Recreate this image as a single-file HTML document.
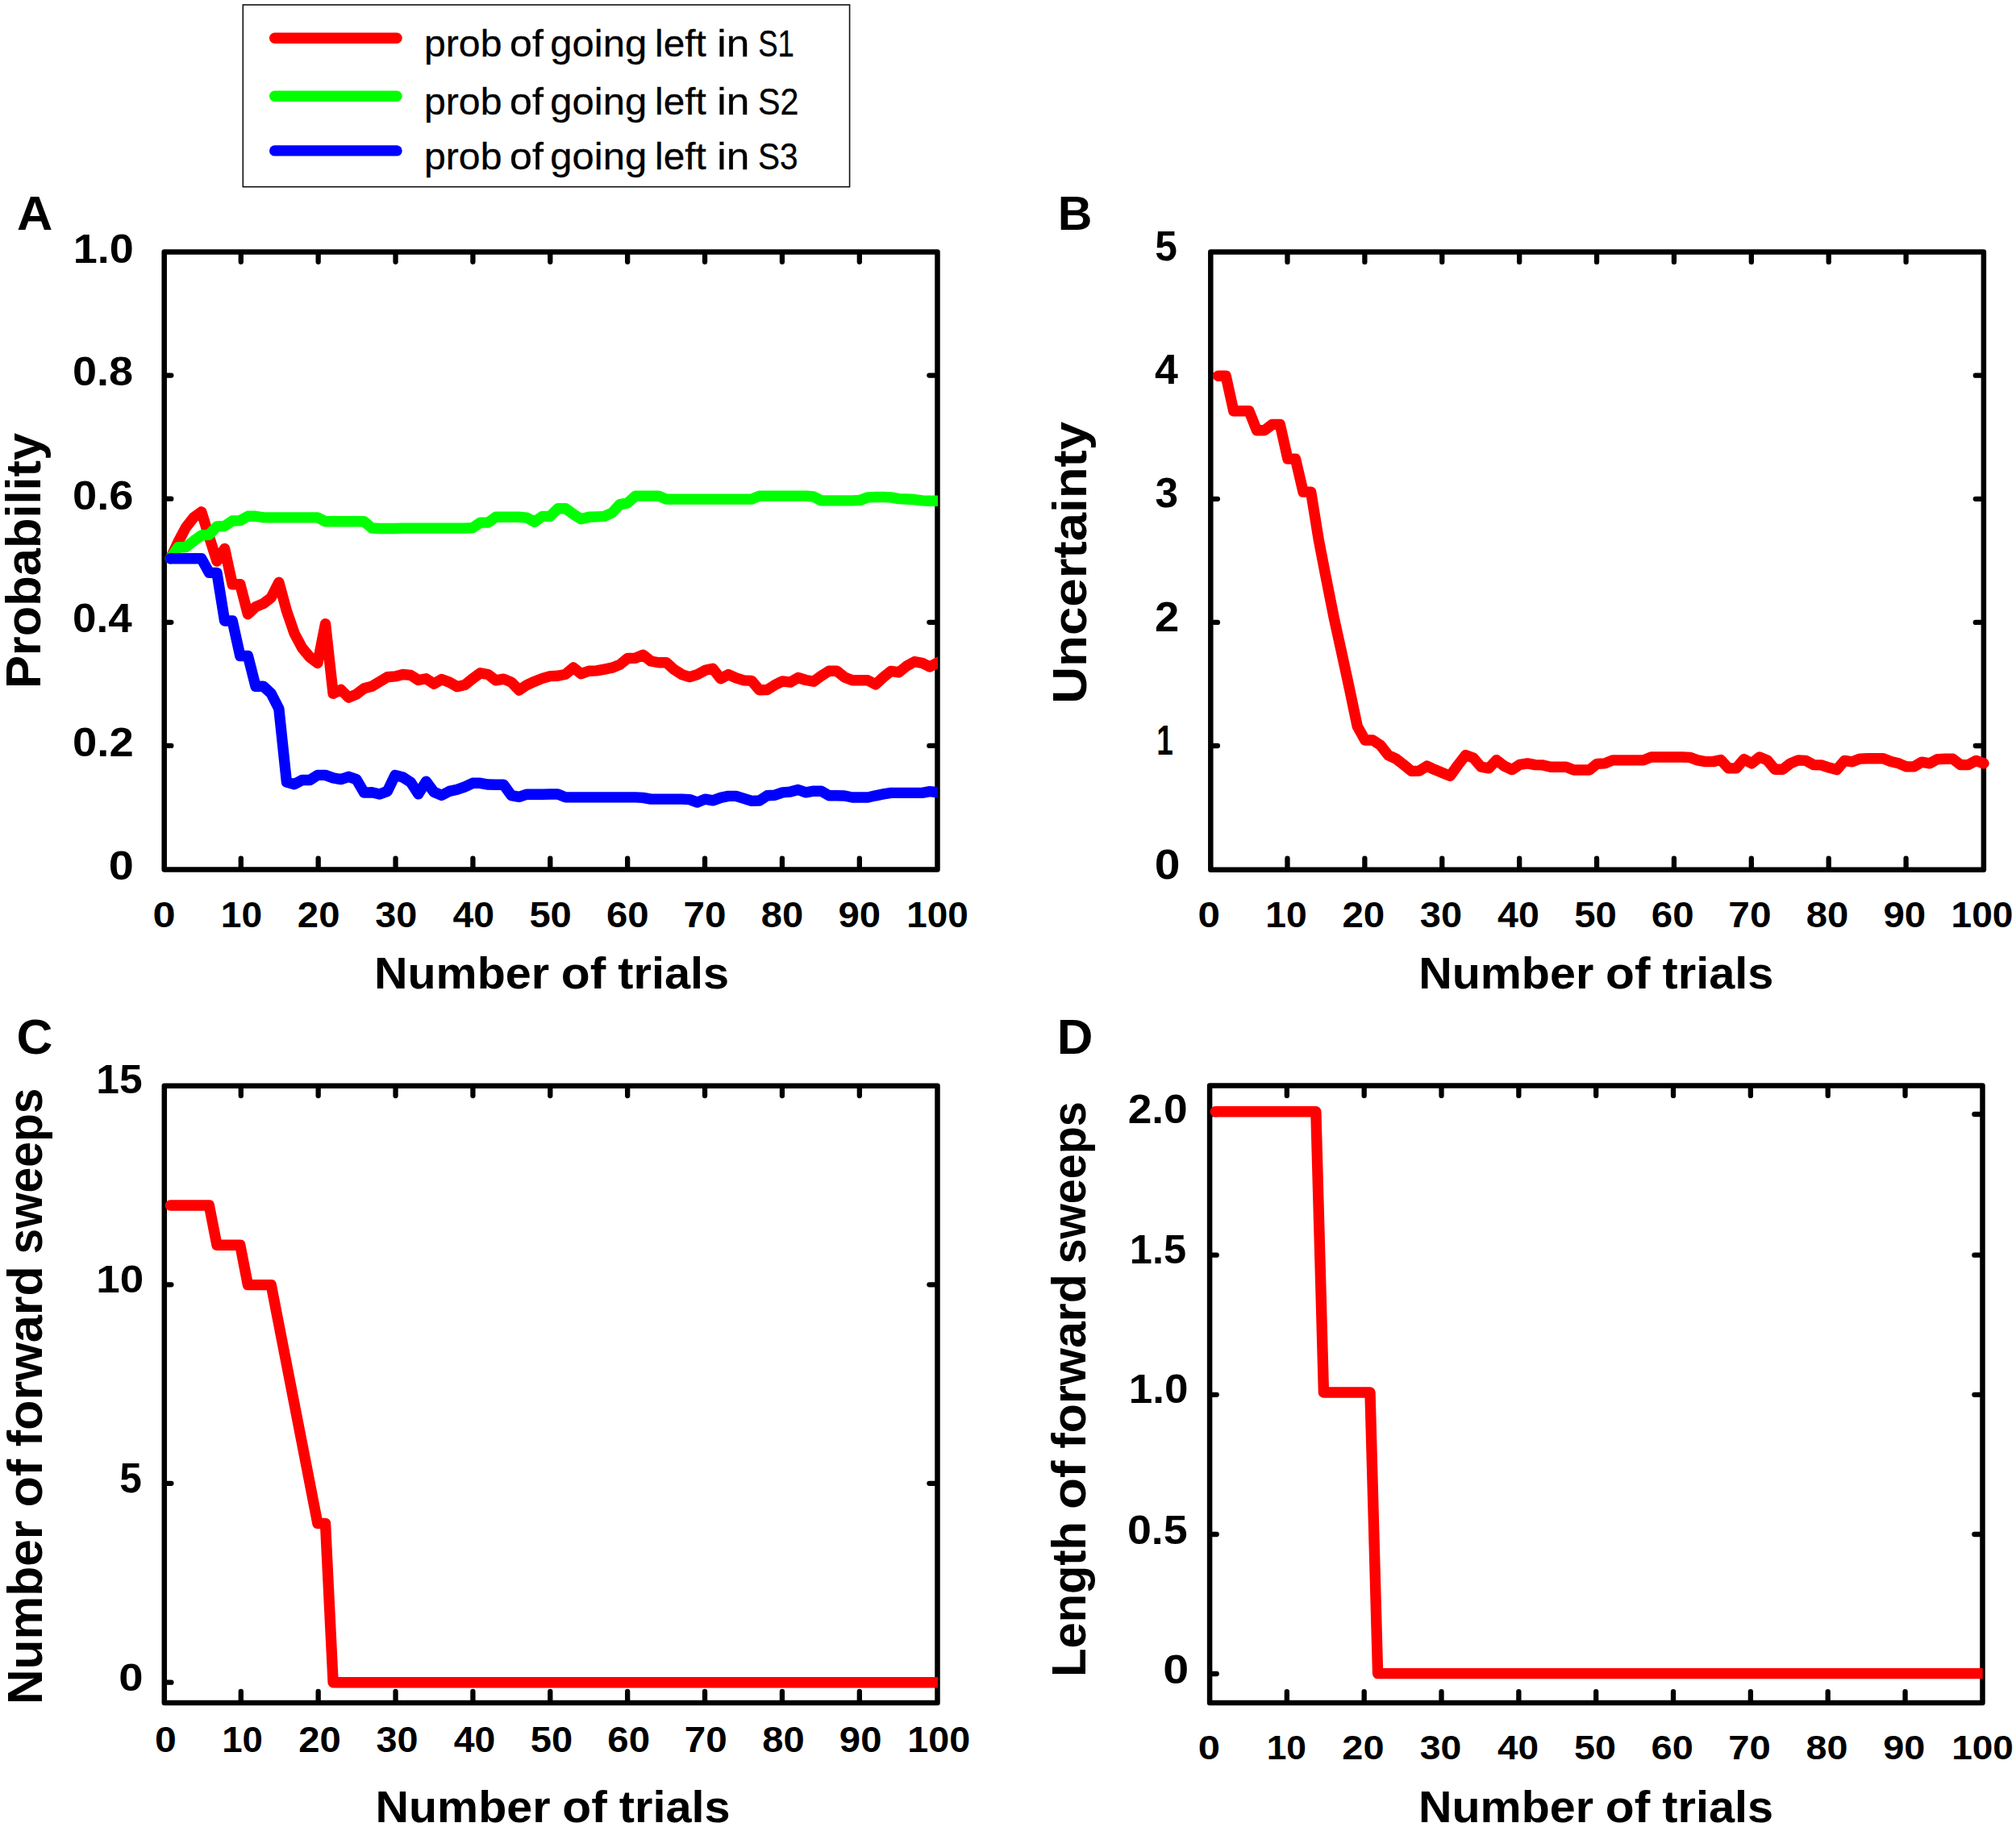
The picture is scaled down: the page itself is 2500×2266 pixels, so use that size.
<!DOCTYPE html>
<html lang="en">
<head>
<meta charset="utf-8">
<title>Figure: learning over trials</title>
<style>
html,body{margin:0;padding:0;background:#fff}
svg{display:block;font-family:"Liberation Sans",Arial,Helvetica,sans-serif}
.fr{fill:none;stroke:#000;stroke-width:6.5;stroke-linejoin:round}
.tk{fill:none;stroke:#000;stroke-width:6.3;stroke-linecap:round}
.cv{fill:none;stroke-width:13.4;stroke-linecap:round;stroke-linejoin:round}
.r{stroke:#ff0000}.g{stroke:#00ff00}.b{stroke:#0000ff}
text{fill:#000}
.bd{font-weight:bold}
</style>
</head>
<body>
<svg width="2500" height="2266" viewBox="0 0 2500 2266">
<rect width="2500" height="2266" fill="#fff"/>
<defs>
<clipPath id="ca"><rect x="0" y="0" width="1162.9" height="2266"/></clipPath>
<clipPath id="cd"><rect x="0" y="0" width="2458.7" height="2266"/></clipPath>
</defs>
<g id="legend">
<rect x="301.3" y="6" width="752.3" height="225.7" fill="#fff" stroke="#111" stroke-width="1.6"/>
<path class="cv r" d="M340.7 47.2H492"/>
<path class="cv g" d="M340.7 119.2H492"/>
<path class="cv b" d="M340.7 186.9H492"/>
</g>
<g id="axesA">
<rect class="fr" x="203.7" y="312.55" width="958.8" height="766"/>
<path class="tk" d="M298.78 1077.05v-12.5M298.78 314.05v10.8M394.66 1077.05v-12.5M394.66 314.05v10.8M490.54 1077.05v-12.5M490.54 314.05v10.8M586.42 1077.05v-12.5M586.42 314.05v10.8M682.3 1077.05v-12.5M682.3 314.05v10.8M778.18 1077.05v-12.5M778.18 314.05v10.8M874.06 1077.05v-12.5M874.06 314.05v10.8M969.94 1077.05v-12.5M969.94 314.05v10.8M1065.82 1077.05v-12.5M1065.82 314.05v10.8M205.2 465.6h7.1M1161 465.6h-8.6M205.2 618.7h7.1M1161 618.7h-8.6M205.2 771.8h7.1M1161 771.8h-8.6M205.2 924.9h7.1M1161 924.9h-8.6"/>
</g>
<g id="axesB">
<rect class="fr" x="1501.3" y="312.6" width="958.6" height="766.05"/>
<path class="tk" d="M1596.49 1077.15v-12.5M1596.49 314.1v10.8M1692.38 1077.15v-12.5M1692.38 314.1v10.8M1788.27 1077.15v-12.5M1788.27 314.1v10.8M1884.16 1077.15v-12.5M1884.16 314.1v10.8M1980.05 1077.15v-12.5M1980.05 314.1v10.8M2075.94 1077.15v-12.5M2075.94 314.1v10.8M2171.83 1077.15v-12.5M2171.83 314.1v10.8M2267.72 1077.15v-12.5M2267.72 314.1v10.8M2363.61 1077.15v-12.5M2363.61 314.1v10.8M1502.8 465.7h7.1M2458.4 465.7h-8.6M1502.8 618.8h7.1M2458.4 618.8h-8.6M1502.8 771.9h7.1M2458.4 771.9h-8.6M1502.8 925h7.1M2458.4 925h-8.6"/>
</g>
<g id="axesC">
<rect class="fr" x="203.8" y="1346.8" width="958.7" height="765.2"/>
<path class="tk" d="M298.78 2110.5v-12.5M298.78 1348.3v10.8M394.66 2110.5v-12.5M394.66 1348.3v10.8M490.54 2110.5v-12.5M490.54 1348.3v10.8M586.42 2110.5v-12.5M586.42 1348.3v10.8M682.3 2110.5v-12.5M682.3 1348.3v10.8M778.18 2110.5v-12.5M778.18 1348.3v10.8M874.06 2110.5v-12.5M874.06 1348.3v10.8M969.94 2110.5v-12.5M969.94 1348.3v10.8M1065.82 2110.5v-12.5M1065.82 1348.3v10.8M205.3 1593.3h7.1M1161 1593.3h-8.6M205.3 1839.8h7.1M1161 1839.8h-8.6M205.3 2086.7h7.1M1161 2086.7h-8.6"/>
</g>
<g id="axesD">
<rect class="fr" x="1500.1" y="1346.6" width="958.4" height="765.5"/>
<path class="tk" d="M1595.84 2110.6v-12.5M1595.84 1348.1v10.8M1691.68 2110.6v-12.5M1691.68 1348.1v10.8M1787.52 2110.6v-12.5M1787.52 1348.1v10.8M1883.36 2110.6v-12.5M1883.36 1348.1v10.8M1979.2 2110.6v-12.5M1979.2 1348.1v10.8M2075.04 2110.6v-12.5M2075.04 1348.1v10.8M2170.88 2110.6v-12.5M2170.88 1348.1v10.8M2266.72 2110.6v-12.5M2266.72 1348.1v10.8M2362.56 2110.6v-12.5M2362.56 1348.1v10.8M1501.6 1382h7.1M2457 1382h-8.6M1501.6 1556.7h7.1M2457 1556.7h-8.6M1501.6 1729.8h7.1M2457 1729.8h-8.6M1501.6 1903h7.1M2457 1903h-8.6M1501.6 2076h7.1M2457 2076h-8.6"/>
</g>
<g id="curvesA" clip-path="url(#ca)">
<path class="cv r" d="M211.3 692.78L220.91 672.25L230.52 654.19L240.13 641.87L249.74 634.81L259.35 665.68L268.96 696.06L278.57 680.46L288.18 724.79L297.79 724.79L307.4 761.74L317.01 752.71L326.62 748.6L336.23 741.22L345.84 722.33L355.45 757.64L365.06 785.55L374.67 803.61L384.28 815.11L393.89 822.5L403.5 773.73L413.11 860.26L422.72 855.34L432.33 865.19L441.94 861.08L451.55 853.69L461.16 851.23L470.77 845.48L480.38 839.74L489.99 838.92L499.6 836.53L509.21 837.4L518.82 843.47L528.43 841.74L538.04 848.16L547.65 842.6L557.26 846.08L566.87 851.63L576.48 849.55L586.09 841.74L595.7 834.79L605.31 836.53L614.92 843.82L624.53 842.08L634.14 846.08L643.75 855.97L653.36 849.55L662.97 845.21L672.58 841.39L682.19 838.61L691.8 838.26L701.41 836.18L711.02 828.02L720.63 835.66L730.24 832.19L739.85 831.84L749.46 830.1L759.07 828.19L768.68 824.38L778.29 816.56L787.9 816.22L797.51 812.22L807.12 820.03L816.73 821.77L826.34 821.77L835.95 830.45L845.56 836.53L855.17 839.65L864.78 836.53L874.39 831.32L884 829.24L893.61 841.74L903.22 836.53L912.83 840.87L922.44 843.82L932.05 844.34L941.66 855.8L951.27 855.62L960.88 849.55L970.49 844.86L980.1 846.08L989.71 840.52L999.32 843.47L1008.93 845.21L1018.54 838.26L1028.15 832.19L1037.76 832.19L1047.37 840L1056.98 843.82L1066.59 843.82L1076.2 843.82L1085.81 848.85L1095.42 840L1105.03 832.36L1114.64 833.92L1124.25 826.11L1133.86 820.73L1143.47 822.29L1153.08 826.98L1162.69 821.77"/>
<path class="cv g" d="M211.3 692.78L220.91 678.82L230.52 678.49L240.13 670.94L249.74 664.04L259.35 663.22L268.96 652.87L278.57 652.55L288.18 645.98L297.79 645.65L307.4 640.23L317.01 640.23L326.62 641.87L336.23 641.87L345.84 641.87L355.45 641.87L365.06 641.87L374.67 641.87L384.28 641.87L393.89 641.87L403.5 646.8L413.11 646.8L422.72 646.8L432.33 646.8L441.94 646.8L451.55 646.8L461.16 655.01L470.77 655.5L480.38 655.5L489.99 655.5L499.6 655.1L509.21 655.1L518.82 655.1L528.43 655.1L538.04 655.1L547.65 655.1L557.26 655.1L566.87 655.1L576.48 655.1L586.09 654.58L595.7 648.16L605.31 648.16L614.92 641.22L624.53 641.22L634.14 641.22L643.75 641.22L653.36 642.08L662.97 647.29L672.58 640.35L682.19 640.35L691.8 630.8L701.41 630.8L711.02 637.74L720.63 643.82L730.24 641.22L739.85 640.87L749.46 640.35L759.07 636.01L768.68 625.59L778.29 623.85L787.9 615.17L797.51 615.17L807.12 615.17L816.73 615.17L826.34 619.17L835.95 619.17L845.56 619.17L855.17 619.17L864.78 619.17L874.39 619.17L884 619.17L893.61 619.17L903.22 619.17L912.83 619.17L922.44 619.17L932.05 619.17L941.66 615.17L951.27 615.17L960.88 615.17L970.49 615.17L980.1 615.17L989.71 615.17L999.32 615.17L1008.93 616.04L1018.54 620.9L1028.15 620.9L1037.76 620.9L1047.37 620.9L1056.98 620.9L1066.59 620.38L1076.2 616.91L1085.81 616.56L1095.42 616.56L1105.03 616.91L1114.64 618.65L1124.25 618.99L1133.86 619.51L1143.47 620.9L1153.08 621.25L1162.69 621.25"/>
<path class="cv b" d="M211.3 692.78L220.91 692.78L230.52 692.78L240.13 692.78L249.74 692.78L259.35 710.34L268.96 710.34L278.57 769.95L288.18 769.95L297.79 813.46L307.4 813.46L317.01 851.23L326.62 851.23L336.23 860.21L345.84 878.96L355.45 970.1L365.06 972.71L374.67 967.5L384.28 967.5L393.89 961.42L403.5 961.42L413.11 964.9L422.72 966.63L432.33 963.33L441.94 966.63L451.55 983.12L461.16 982.78L470.77 985.03L480.38 981.39L489.99 961.42L499.6 964.03L509.21 970.1L518.82 984.86L528.43 969.24L538.04 982.26L547.65 986.42L557.26 981.39L566.87 979.31L576.48 975.83L586.09 971.32L595.7 971.32L605.31 973.06L614.92 973.23L624.53 973.23L634.14 986.6L643.75 988.33L653.36 985.21L662.97 985.21L672.58 985.21L682.19 985.07L691.8 985.07L701.41 988.89L711.02 988.89L720.63 988.89L730.24 988.89L739.85 988.89L749.46 988.89L759.07 988.89L768.68 988.89L778.29 988.89L787.9 988.89L797.51 989.41L807.12 991.15L816.73 991.15L826.34 991.15L835.95 991.15L845.56 991.15L855.17 991.67L864.78 995.14L874.39 991.15L884 992.88L893.61 989.41L903.22 987.33L912.83 987.33L922.44 990.28L932.05 993.4L941.66 993.01L951.27 986.81L960.88 986.19L970.49 982.84L980.1 982.09L989.71 979.49L999.32 982.84L1008.93 981.23L1018.54 981.23L1028.15 986.81L1037.76 986.81L1047.37 987.05L1056.98 989.04L1066.59 989.04L1076.2 989.04L1085.81 986.81L1095.42 984.95L1105.03 983.33L1114.64 983.33L1124.25 983.33L1133.86 983.33L1143.47 983.33L1153.08 981.6L1162.69 982.84"/>
</g>
<g id="curvesB">
<path class="cv r" d="M1510.59 466.28L1520.18 466.28L1529.77 509.73L1539.36 509.73L1548.95 509.73L1558.54 533.73L1568.13 533.73L1577.72 526.37L1587.31 526.37L1596.9 569.12L1606.49 569.12L1616.08 610.11L1625.67 610.11L1635.26 669.43L1644.85 719.01L1654.44 767.25L1664.03 810.78L1673.62 855.2L1683.21 900.75L1692.8 918.02L1702.39 918.02L1711.98 924.31L1721.57 936.65L1731.16 941.13L1740.75 948.54L1750.34 956.39L1759.93 956.17L1769.52 950.11L1779.11 954.6L1788.7 958.41L1798.29 962.45L1807.88 948.99L1817.47 936.65L1827.06 940.01L1836.65 951.23L1846.24 952.8L1855.83 942.7L1865.42 950.11L1875.01 954.6L1884.6 948.31L1894.19 946.84L1903.78 948.58L1913.37 948.92L1922.96 951.18L1932.55 951.18L1942.14 951.18L1951.73 955L1961.32 955L1970.91 955L1980.5 947.36L1990.09 946.84L1999.68 942.85L2009.27 942.85L2018.86 942.85L2028.45 942.85L2038.04 942.85L2047.63 939.03L2057.22 939.03L2066.81 939.03L2076.4 939.03L2085.99 939.03L2095.58 939.38L2105.17 942.85L2114.76 944.58L2124.35 944.58L2133.94 942.5L2143.53 952.92L2153.12 952.92L2162.71 941.63L2172.3 946.84L2181.89 939.03L2191.48 942.85L2201.07 954.31L2210.66 954.31L2220.25 946.84L2229.84 942.85L2239.43 943.37L2249.02 948.58L2258.61 948.92L2268.2 952.05L2277.79 954.65L2287.38 943.37L2296.97 944.76L2306.56 941.11L2316.15 940.76L2325.74 940.76L2335.33 940.76L2344.92 944.58L2354.51 946.84L2364.1 950.83L2373.69 950.83L2383.28 945.1L2392.87 946.84L2402.46 941.63L2412.05 941.28L2421.64 941.28L2431.23 948.58L2440.82 948.58L2450.41 943.37L2460 946.84"/>
</g>
<g id="curvesC" clip-path="url(#ca)">
<path class="cv r" d="M211.3 1494.98L220.91 1494.98L230.52 1494.98L240.13 1494.98L249.74 1494.98L259.35 1494.98L268.96 1544.29L278.57 1544.29L288.18 1544.29L297.79 1544.29L307.4 1593.6L317.01 1593.6L326.62 1593.6L336.23 1593.6L345.84 1642.91L355.45 1692.22L365.06 1741.53L374.67 1790.84L384.28 1840.15L393.89 1889.46L403.5 1889.46L413.11 2086.7L422.72 2086.7L432.33 2086.7L441.94 2086.7L451.55 2086.7L461.16 2086.7L470.77 2086.7L480.38 2086.7L489.99 2086.7L499.6 2086.7L509.21 2086.7L518.82 2086.7L528.43 2086.7L538.04 2086.7L547.65 2086.7L557.26 2086.7L566.87 2086.7L576.48 2086.7L586.09 2086.7L595.7 2086.7L605.31 2086.7L614.92 2086.7L624.53 2086.7L634.14 2086.7L643.75 2086.7L653.36 2086.7L662.97 2086.7L672.58 2086.7L682.19 2086.7L691.8 2086.7L701.41 2086.7L711.02 2086.7L720.63 2086.7L730.24 2086.7L739.85 2086.7L749.46 2086.7L759.07 2086.7L768.68 2086.7L778.29 2086.7L787.9 2086.7L797.51 2086.7L807.12 2086.7L816.73 2086.7L826.34 2086.7L835.95 2086.7L845.56 2086.7L855.17 2086.7L864.78 2086.7L874.39 2086.7L884 2086.7L893.61 2086.7L903.22 2086.7L912.83 2086.7L922.44 2086.7L932.05 2086.7L941.66 2086.7L951.27 2086.7L960.88 2086.7L970.49 2086.7L980.1 2086.7L989.71 2086.7L999.32 2086.7L1008.93 2086.7L1018.54 2086.7L1028.15 2086.7L1037.76 2086.7L1047.37 2086.7L1056.98 2086.7L1066.59 2086.7L1076.2 2086.7L1085.81 2086.7L1095.42 2086.7L1105.03 2086.7L1114.64 2086.7L1124.25 2086.7L1133.86 2086.7L1143.47 2086.7L1153.08 2086.7L1162.69 2086.7"/>
</g>
<g id="curvesD" clip-path="url(#cd)">
<path class="cv r" d="M1507.19 1378.8L1516.78 1378.8L1526.37 1378.8L1535.96 1378.8L1545.55 1378.8L1555.14 1378.8L1564.73 1378.8L1574.32 1378.8L1583.91 1378.8L1593.5 1378.8L1603.09 1378.8L1612.68 1378.8L1622.27 1378.8L1631.86 1378.8L1641.45 1727L1651.04 1727L1660.63 1727L1670.22 1727L1679.81 1727L1689.4 1727L1698.99 1727L1708.58 2075.6L1718.17 2075.6L1727.76 2075.6L1737.35 2075.6L1746.94 2075.6L1756.53 2075.6L1766.12 2075.6L1775.71 2075.6L1785.3 2075.6L1794.89 2075.6L1804.48 2075.6L1814.07 2075.6L1823.66 2075.6L1833.25 2075.6L1842.84 2075.6L1852.43 2075.6L1862.02 2075.6L1871.61 2075.6L1881.2 2075.6L1890.79 2075.6L1900.38 2075.6L1909.97 2075.6L1919.56 2075.6L1929.15 2075.6L1938.74 2075.6L1948.33 2075.6L1957.92 2075.6L1967.51 2075.6L1977.1 2075.6L1986.69 2075.6L1996.28 2075.6L2005.87 2075.6L2015.46 2075.6L2025.05 2075.6L2034.64 2075.6L2044.23 2075.6L2053.82 2075.6L2063.41 2075.6L2073 2075.6L2082.59 2075.6L2092.18 2075.6L2101.77 2075.6L2111.36 2075.6L2120.95 2075.6L2130.54 2075.6L2140.13 2075.6L2149.72 2075.6L2159.31 2075.6L2168.9 2075.6L2178.49 2075.6L2188.08 2075.6L2197.67 2075.6L2207.26 2075.6L2216.85 2075.6L2226.44 2075.6L2236.03 2075.6L2245.62 2075.6L2255.21 2075.6L2264.8 2075.6L2274.39 2075.6L2283.98 2075.6L2293.57 2075.6L2303.16 2075.6L2312.75 2075.6L2322.34 2075.6L2331.93 2075.6L2341.52 2075.6L2351.11 2075.6L2360.7 2075.6L2370.29 2075.6L2379.88 2075.6L2389.47 2075.6L2399.06 2075.6L2408.65 2075.6L2418.24 2075.6L2427.83 2075.6L2437.42 2075.6L2447.01 2075.6L2456.6 2075.6"/>
</g>
<g id="labels">
<text transform="translate(0 69.96)" font-size="46.84" stroke="#000" stroke-width="0.3"><tspan x="525.97" textLength="96.48" lengthAdjust="spacingAndGlyphs">prob</tspan> <tspan x="632.09" textLength="41.84" lengthAdjust="spacingAndGlyphs">of</tspan> <tspan x="682.34" textLength="119.8" lengthAdjust="spacingAndGlyphs">going</tspan> <tspan x="812.08" textLength="63.66" lengthAdjust="spacingAndGlyphs">left</tspan> <tspan x="889.25" textLength="40.08" lengthAdjust="spacingAndGlyphs">in</tspan> <tspan x="940.21" textLength="44.76" lengthAdjust="spacingAndGlyphs">S1</tspan></text>
<text transform="translate(0 141.61)" font-size="46.63" stroke="#000" stroke-width="0.3"><tspan x="525.97" textLength="96.48" lengthAdjust="spacingAndGlyphs">prob</tspan> <tspan x="632.09" textLength="41.84" lengthAdjust="spacingAndGlyphs">of</tspan> <tspan x="682.34" textLength="119.8" lengthAdjust="spacingAndGlyphs">going</tspan> <tspan x="812.08" textLength="63.66" lengthAdjust="spacingAndGlyphs">left</tspan> <tspan x="889.25" textLength="40.08" lengthAdjust="spacingAndGlyphs">in</tspan> <tspan x="939.98" textLength="50.58" lengthAdjust="spacingAndGlyphs">S2</tspan></text>
<text transform="translate(0 209.61)" font-size="46.63" stroke="#000" stroke-width="0.3"><tspan x="525.97" textLength="96.48" lengthAdjust="spacingAndGlyphs">prob</tspan> <tspan x="632.09" textLength="41.84" lengthAdjust="spacingAndGlyphs">of</tspan> <tspan x="682.34" textLength="119.8" lengthAdjust="spacingAndGlyphs">going</tspan> <tspan x="812.08" textLength="63.66" lengthAdjust="spacingAndGlyphs">left</tspan> <tspan x="889.25" textLength="40.08" lengthAdjust="spacingAndGlyphs">in</tspan> <tspan x="940.02" textLength="49.66" lengthAdjust="spacingAndGlyphs">S3</tspan></text>
<text class="bd" transform="translate(20.96 285.15) scale(1.0356 1)" font-size="59.21">A</text>
<text class="bd" transform="translate(1311.75 285) scale(0.9841 1)" font-size="60">B</text>
<text class="bd" transform="translate(20.44 1307.38) scale(1.0074 1)" font-size="61.69">C</text>
<text class="bd" transform="translate(1310.86 1307) scale(1.0229 1)" font-size="60.43">D</text>
<text class="bd" transform="translate(90.7 326) scale(1.0856 1)" font-size="49.72">1.0</text>
<text class="bd" transform="translate(90.06 477.7) scale(1.0870 1)" font-size="49.72">0.8</text>
<text class="bd" transform="translate(90.05 631.5) scale(1.0884 1)" font-size="49.86">0.6</text>
<text class="bd" transform="translate(90.1 783.8) scale(1.0663 1)" font-size="49.72">0.4</text>
<text class="bd" transform="translate(90.05 937.6) scale(1.0945 1)" font-size="49.72">0.2</text>
<text class="bd" transform="translate(134.69 1091.3) scale(1.1253 1)" font-size="49.72">0</text>
<text class="bd" transform="translate(1432.32 323.19) scale(0.9690 1)" font-size="51.14">5</text>
<text class="bd" transform="translate(1432.11 476.2) scale(1.0089 1)" font-size="51.45">4</text>
<text class="bd" transform="translate(1432.58 628.89) scale(1.0050 1)" font-size="51.13">3</text>
<text class="bd" transform="translate(1431.89 782.8) scale(1.0705 1)" font-size="50.87">2</text>
<text class="bd" transform="translate(1434.27 935.8) scale(0.7226 1)" font-size="51.16">1</text>
<text class="bd" transform="translate(1431.64 1089.69) scale(1.1118 1)" font-size="51.27">0</text>
<text class="bd" transform="translate(119.36 1356.11) scale(1.0479 1)" font-size="49.14">15</text>
<text class="bd" transform="translate(119.26 1602.62) scale(1.0962 1)" font-size="48.31">10</text>
<text class="bd" transform="translate(148.22 1850.98) scale(0.9505 1)" font-size="52.14">5</text>
<text class="bd" transform="translate(147.14 2096.52) scale(1.1244 1)" font-size="48.45">0</text>
<text class="bd" transform="translate(1398.64 1392.8) scale(1.0597 1)" font-size="50.28">2.0</text>
<text class="bd" transform="translate(1400.81 1566.8) scale(1.0087 1)" font-size="50.14">1.5</text>
<text class="bd" transform="translate(1399.86 1739.8) scale(1.0653 1)" font-size="49.72">1.0</text>
<text class="bd" transform="translate(1397.97 1915.09) scale(1.0604 1)" font-size="50.7">0.5</text>
<text class="bd" transform="translate(1442.13 2087.7) scale(1.1388 1)" font-size="50.42">0</text>
<text class="bd" transform="translate(189.6 1150.05) scale(1.1342 1)" font-size="44.51">0</text>
<text class="bd" transform="translate(273.79 1150.05) scale(1.0361 1)" font-size="44.51">10</text>
<text class="bd" transform="translate(368.85 1150.05) scale(1.0624 1)" font-size="44.51">20</text>
<text class="bd" transform="translate(465.19 1150.05) scale(1.0509 1)" font-size="44.51">30</text>
<text class="bd" transform="translate(561.39 1150.05) scale(1.0424 1)" font-size="44.51">40</text>
<text class="bd" transform="translate(656.4 1150.05) scale(1.0591 1)" font-size="44.51">50</text>
<text class="bd" transform="translate(751.96 1150.05) scale(1.0642 1)" font-size="44.51">60</text>
<text class="bd" transform="translate(847.45 1150.05) scale(1.0706 1)" font-size="44.51">70</text>
<text class="bd" transform="translate(943.8 1150.05) scale(1.0592 1)" font-size="44.51">80</text>
<text class="bd" transform="translate(1039.45 1150.05) scale(1.0624 1)" font-size="44.51">90</text>
<text class="bd" transform="translate(1124.31 1150.05) scale(1.0311 1)" font-size="44.51">100</text>
<text class="bd" transform="translate(1485.54 1149.96) scale(1.1177 1)" font-size="44.23">0</text>
<text class="bd" transform="translate(1569.13 1149.96) scale(1.0472 1)" font-size="44.23">10</text>
<text class="bd" transform="translate(1664.44 1149.96) scale(1.0735 1)" font-size="44.23">20</text>
<text class="bd" transform="translate(1760.83 1149.96) scale(1.0619 1)" font-size="44.23">30</text>
<text class="bd" transform="translate(1857.09 1149.96) scale(1.0534 1)" font-size="44.23">40</text>
<text class="bd" transform="translate(1952.14 1149.96) scale(1.0702 1)" font-size="44.23">50</text>
<text class="bd" transform="translate(2047.75 1149.96) scale(1.0753 1)" font-size="44.23">60</text>
<text class="bd" transform="translate(2143.29 1149.96) scale(1.0818 1)" font-size="44.23">70</text>
<text class="bd" transform="translate(2239.69 1149.96) scale(1.0703 1)" font-size="44.23">80</text>
<text class="bd" transform="translate(2335.39 1149.96) scale(1.0735 1)" font-size="44.23">90</text>
<text class="bd" transform="translate(2419.6 1149.96) scale(1.0420 1)" font-size="44.23">100</text>
<text class="bd" transform="translate(191.89 2172.56) scale(1.1032 1)" font-size="43.66">0</text>
<text class="bd" transform="translate(275.13 2172.56) scale(1.0448 1)" font-size="43.66">10</text>
<text class="bd" transform="translate(370.25 2172.56) scale(1.0829 1)" font-size="43.66">20</text>
<text class="bd" transform="translate(466.59 2172.56) scale(1.0713 1)" font-size="43.66">30</text>
<text class="bd" transform="translate(562.79 2172.56) scale(1.0626 1)" font-size="43.66">40</text>
<text class="bd" transform="translate(657.8 2172.56) scale(1.0796 1)" font-size="43.66">50</text>
<text class="bd" transform="translate(753.36 2172.56) scale(1.0848 1)" font-size="43.66">60</text>
<text class="bd" transform="translate(848.85 2172.56) scale(1.0913 1)" font-size="43.66">70</text>
<text class="bd" transform="translate(945.2 2172.56) scale(1.0797 1)" font-size="43.66">80</text>
<text class="bd" transform="translate(1040.85 2172.56) scale(1.0829 1)" font-size="43.66">90</text>
<text class="bd" transform="translate(1125.26 2172.56) scale(1.0686 1)" font-size="43.66">100</text>
<text class="bd" transform="translate(1485.66 2181.57) scale(1.1297 1)" font-size="43.38">0</text>
<text class="bd" transform="translate(1570.64 2181.57) scale(1.0242 1)" font-size="43.38">10</text>
<text class="bd" transform="translate(1664.34 2181.57) scale(1.0810 1)" font-size="43.38">20</text>
<text class="bd" transform="translate(1760.72 2181.57) scale(1.0694 1)" font-size="43.38">30</text>
<text class="bd" transform="translate(1856.96 2181.57) scale(1.0608 1)" font-size="43.38">40</text>
<text class="bd" transform="translate(1952.01 2181.57) scale(1.0777 1)" font-size="43.38">50</text>
<text class="bd" transform="translate(2047.61 2181.57) scale(1.0829 1)" font-size="43.38">60</text>
<text class="bd" transform="translate(2143.15 2181.57) scale(1.0895 1)" font-size="43.38">70</text>
<text class="bd" transform="translate(2239.53 2181.57) scale(1.0778 1)" font-size="43.38">80</text>
<text class="bd" transform="translate(2335.22 2181.57) scale(1.0810 1)" font-size="43.38">90</text>
<text class="bd" transform="translate(2420.2 2181.57) scale(1.0608 1)" font-size="43.38">100</text>
<text class="bd" transform="translate(0 1226.44)" font-size="56.33"><tspan x="463.95" textLength="217.14" lengthAdjust="spacingAndGlyphs">Number</tspan> <tspan x="695.8" textLength="55.46" lengthAdjust="spacingAndGlyphs">of</tspan> <tspan x="766.29" textLength="137.9" lengthAdjust="spacingAndGlyphs">trials</tspan></text>
<text class="bd" transform="translate(0 1226.44)" font-size="56.33"><tspan x="1759.15" textLength="217.14" lengthAdjust="spacingAndGlyphs">Number</tspan> <tspan x="1991" textLength="55.46" lengthAdjust="spacingAndGlyphs">of</tspan> <tspan x="2061.49" textLength="137.9" lengthAdjust="spacingAndGlyphs">trials</tspan></text>
<text class="bd" transform="translate(0 2260.24)" font-size="56.19"><tspan x="465.45" textLength="217.14" lengthAdjust="spacingAndGlyphs">Number</tspan> <tspan x="697.3" textLength="55.46" lengthAdjust="spacingAndGlyphs">of</tspan> <tspan x="767.79" textLength="137.9" lengthAdjust="spacingAndGlyphs">trials</tspan></text>
<text class="bd" transform="translate(0 2260.24)" font-size="56.19"><tspan x="1758.95" textLength="217.14" lengthAdjust="spacingAndGlyphs">Number</tspan> <tspan x="1990.8" textLength="55.46" lengthAdjust="spacingAndGlyphs">of</tspan> <tspan x="2061.29" textLength="137.9" lengthAdjust="spacingAndGlyphs">trials</tspan></text>
<text class="bd" transform="translate(49.62 854.11) rotate(-90) scale(1.0091 1)" font-size="60.86">Probability</text>
<text class="bd" transform="translate(1347.42 872.82) rotate(-90) scale(1.0622 1)" font-size="59.89">Uncertainty</text>
<text class="bd" transform="translate(51.96 0) rotate(-90)" font-size="60.21"><tspan x="-2114.04" textLength="228.28" lengthAdjust="spacingAndGlyphs">Number</tspan> <tspan x="-1869.47" textLength="59.62" lengthAdjust="spacingAndGlyphs">of</tspan> <tspan x="-1794.35" textLength="224.3" lengthAdjust="spacingAndGlyphs">forward</tspan> <tspan x="-1555.41" textLength="205.73" lengthAdjust="spacingAndGlyphs">sweeps</tspan></text>
<text class="bd" transform="translate(1346.05 0) rotate(-90)" font-size="59.79"><tspan x="-2079.77" textLength="192.58" lengthAdjust="spacingAndGlyphs">Length</tspan> <tspan x="-1872.1" textLength="60.35" lengthAdjust="spacingAndGlyphs">of</tspan> <tspan x="-1796.81" textLength="216.62" lengthAdjust="spacingAndGlyphs">forward</tspan> <tspan x="-1567.56" textLength="201.23" lengthAdjust="spacingAndGlyphs">sweeps</tspan></text>
</g>
</svg>
</body>
</html>
